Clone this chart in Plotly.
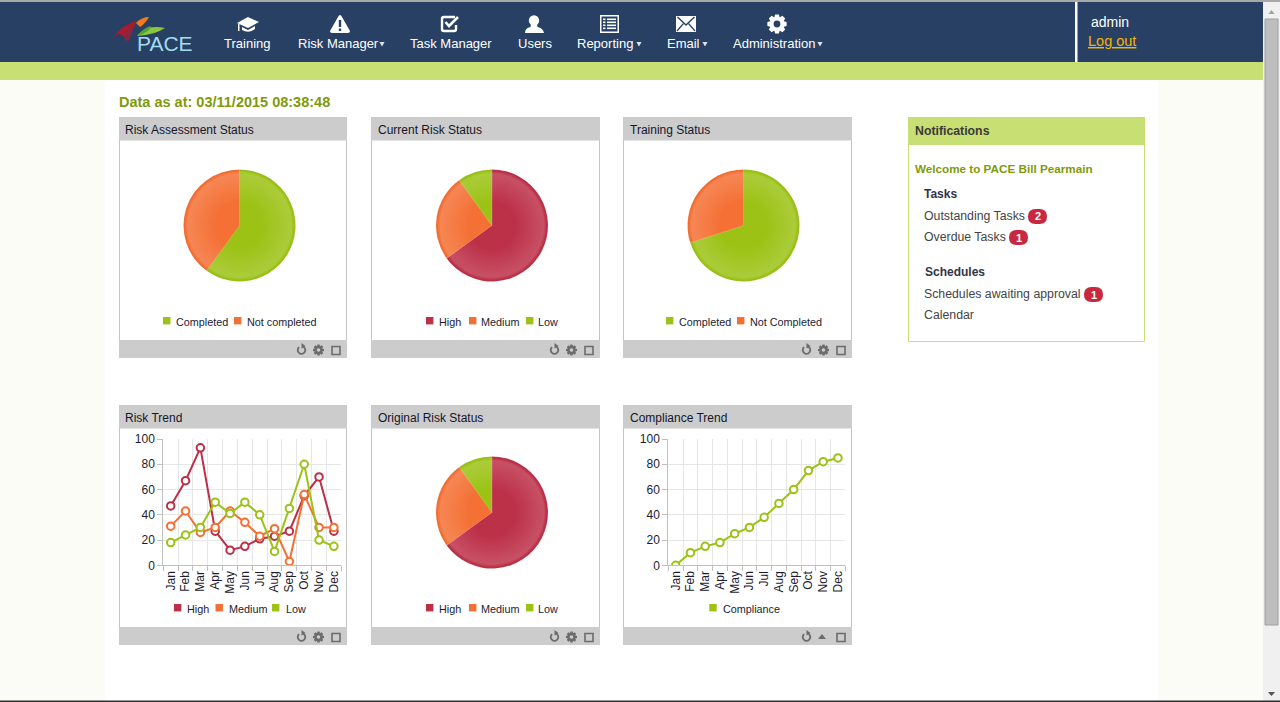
import math, re
import plotly.graph_objects as go

W, H = 1280, 702

# ---- data ----
MONTHS = ["Jan", "Feb", "Mar", "Apr", "May", "Jun", "Jul", "Aug", "Sep", "Oct", "Nov", "Dec"]
TREND_HIGH = [47, 67, 93, 27, 12, 15, 21, 23, 27, 55, 70, 27]
TREND_MEDIUM = [31, 43, 26, 30, 43, 34, 23, 29, 3, 56, 30, 30]
TREND_LOW = [18, 24, 30, 50, 41, 50, 40, 11, 45, 80, 20, 15]
COMPLIANCE = [0, 10, 15, 18, 25, 30, 38, 49, 60, 75, 82, 85]

ASSESS_LABELS = ["Completed", "Not completed"]
ASSESS_VALUES = [60, 40]
CURRENT_LABELS = ["High", "Medium", "Low"]
CURRENT_VALUES = [65, 25, 10]
TRAINING_LABELS = ["Completed", "Not Completed"]
TRAINING_VALUES = [70, 30]
ORIGINAL_LABELS = ["High", "Medium", "Low"]
ORIGINAL_VALUES = [65, 25, 10]

RED, ORANGE, GREEN = "#BC2F47", "#F46F33", "#9BC214"
NAVY = "#274064"
LIME = "#C8DF74"
OLIVE = "#7F9A0B"
PANEL_GREY = "#CCCCCC"
ICON = "#6B6B6B"
ARIAL = "Liberation Sans, Arial, sans-serif"
TEXT = "#1C1C30"


def fx(x):
    return x / W


def fy(y):
    return 1 - y / H


def path(d):
    toks = re.findall(r"[MLQCZ]|-?\d+\.?\d*", d)
    out, isx = [], True
    for t in toks:
        if t in "MLQCZ":
            out.append(t)
            isx = True
        else:
            v = float(t)
            out.append(f"{fx(v):.5f}" if isx else f"{fy(v):.5f}")
            isx = not isx
    return " ".join(out)


shapes, annos = [], []


def rect(x0, y0, x1, y1, fill, line=None, lw=1):
    shapes.append(dict(type="rect", xref="paper", yref="paper", x0=fx(x0), x1=fx(x1), y0=fy(y0), y1=fy(y1),
                       fillcolor=fill, line=dict(color=line, width=lw) if line else dict(width=0), layer="below"))


def poly(d, fill=None, line=None, lw=0):
    shapes.append(dict(type="path", xref="paper", yref="paper", path=path(d), fillcolor=fill or "rgba(0,0,0,0)",
                       line=dict(color=line, width=lw) if line else dict(width=0), layer="below"))


def circle(cx, cy, r, fill, line=None, lw=0):
    shapes.append(dict(type="circle", xref="paper", yref="paper", x0=fx(cx - r), x1=fx(cx + r), y0=fy(cy - r), y1=fy(cy + r),
                       fillcolor=fill, line=dict(color=line, width=lw) if line else dict(width=0), layer="below"))


def text(x, y, s, size=12, color=TEXT, bold=False, anchor="left"):
    annos.append(dict(xref="paper", yref="paper", x=fx(x - 1 if anchor == "left" else x), y=fy(y), text=f"<b>{s}</b>" if bold else s,
                      showarrow=False, xanchor=anchor, yanchor="middle", borderpad=0,
                      font=dict(family=ARIAL, size=size, color=color)))


def gear(cx, cy, ro, ri, hole, fill, holefill, n=8):
    pts = []
    for i in range(n):
        a = 2 * math.pi * i / n - math.pi / 2
        w = math.pi / n
        for da, r in ((-w * 0.95, ri), (-w * 0.5, ro), (w * 0.5, ro), (w * 0.95, ri)):
            pts.append((cx + r * math.cos(a + da), cy + r * math.sin(a + da)))
    poly("M " + " L ".join(f"{p[0]:.2f} {p[1]:.2f}" for p in pts) + " Z", fill)
    circle(cx, cy, hole, holefill)


def refresh(cx, cy):
    pts = []
    for d in range(20, 330, 20):
        a = math.radians(d)
        pts.append((cx + 3.8 * math.sin(a), cy - 3.8 * math.cos(a)))
    poly("M " + " L ".join(f"{p[0]:.2f} {p[1]:.2f}" for p in pts), None, ICON, 1.8)
    poly(f"M {cx:.1f} {cy-7:.1f} L {cx+4:.1f} {cy-4:.1f} L {cx:.1f} {cy-1.5:.1f} Z", ICON)


# ---- page chrome ----
rect(0, 0, W, H, "#FBFCF5")
rect(105, 80, 1158, H, "#FFFFFF")
rect(0, 2, 1263, 62, NAVY)
rect(0, 0, W, 2, "#A8A8A8")
rect(0, 62, 1263, 80, LIME)
rect(1075, 2, 1077.5, 62, "#FFFFFF")
rect(1263, 2, W, H, "#F0F0F0")
rect(1265, 19, 1278, 625, "#BEBEBE", "#A0A0A0", 1)
poly("M 1268 692 L 1275 692 L 1271.5 696 Z", "#505050")
poly("M 1268.5 14 L 1274.5 14 L 1271.5 10 Z", "#A0A0A0")
rect(0, 700.5, W, H, "#303030")

# logo
poly("M 113 38 Q 122 24 137 21 Q 133 29 128 41 Q 124 35 118 34 Z", "#A81C30")
poly("M 124 40 Q 126 30 134 26 Q 132 33 129 41 Z", "#7E2A45")
poly("M 136 23 Q 142 17 149 17 Q 146 23 140 27 Z", "#F07A20")
poly("M 137 36 Q 146 24 165 28 Q 155 35 137 36 Z", "#8CC63F")
poly("M 137 36 Q 143 28 151 26 Q 150 32 137 36 Z", "#4EA33A")
text(137, 43, "PACE", 21, "#A2DDF0")

# menu
for x, label in [(224, "Training"), (298, "Risk Manager"), (410, "Task Manager"), (518, "Users"),
                 (577, "Reporting"), (667, "Email"), (733, "Administration")]:
    text(x, 43.5, label, 13, "#FFFFFF")
for x in (382, 639, 705, 820):
    poly(f"M {x-2.6} 42 L {x+2.6} 42 L {x} 46.5 Z", "#DDE2E8")

# cap
poly("M 237 23 L 248 17 L 259 22 L 248 28 Z", "#FFFFFF")
poly("M 242 27 L 248 30 L 255 26 L 255 29 Q 249 34 242 30 Z", "#FFFFFF")
poly("M 238 24 L 239.5 24 L 239.5 31 L 238 31 Z", "#FFFFFF")
# warning
poly("M 340 15 Q 341 15 342 17 L 350 31 Q 350 33 348 33 L 332 33 Q 330 33 330 31 L 338 17 Q 339 15 340 15 Z", "#FFFFFF")
rect(338.8, 20, 341.2, 27, NAVY)
rect(338.8, 28.5, 341.2, 31, NAVY)
# task check
poly("M 455 17 L 444 17 Q 442 17 442 19 L 442 29 Q 442 31 444 31 L 454 31 Q 456 31 456 29 L 456 25", None, "#FFFFFF", 2.4)
poly("M 445.5 22 L 449 26 L 458 17", None, "#FFFFFF", 2.6)
# user
circle(534, 20.5, 5.2, "#FFFFFF")
poly("M 531 24 L 537 24 L 537.5 27 Q 543 28 544 33 L 525 33 Q 525 28 530.5 27 Z", "#FFFFFF")
# reporting
rect(600, 15, 619, 33, "#FFFFFF")
rect(601.5, 16.5, 617.5, 31.5, NAVY)
for yy in (18.5, 21.5, 24.5, 27.5):
    rect(603, yy, 605.5, yy + 1.6, "#FFFFFF")
    rect(607, yy, 616, yy + 1.6, "#FFFFFF")
# mail
rect(676, 16, 696, 32, "#FFFFFF")
poly("M 677.5 17 L 686 25 L 694.5 17", None, NAVY, 1.4)
poly("M 677 31 L 683.5 23.5", None, NAVY, 1.2)
poly("M 695 31 L 688.5 23.5", None, NAVY, 1.2)
# admin gear
gear(777, 24, 9.8, 7.3, 3.4, "#FFFFFF", NAVY)

text(1091, 22, "admin", 14, "#FFFFFF")
text(1087.5, 41, "<u>Log out</u>", 14.5, "#F5B400")
text(119, 102, "Data as at: 03/11/2015 08:38:48", 14.5, OLIVE, bold=True)


# ---- dashboard panels ----
def panel(x0, x1, y0, y1, title, middle="gear", tx=6, ty=12.5):
    rect(x0 + .5, y0 + .5, x1 - .5, y1 - .5, "#FFFFFF", "#C4C4C4", 1)
    rect(x0, y0, x1, y0 + 23.5, PANEL_GREY)
    rect(x0, y1 - 18, x1, y1, PANEL_GREY)
    text(x0 + tx, y0 + ty, title, 12, "#15152A")
    cy = y1 - 8
    refresh(x1 - 45.5, cy)
    if middle == "gear":
        gear(x1 - 28.5, cy, 5.6, 4.1, 1.8, ICON, PANEL_GREY)
    else:
        poly(f"M {x1-34} {cy+2} L {x1-26} {cy+2} L {x1-30} {cy-3} Z", ICON)
    rect(x1 - 15, cy - 3.5, x1 - 7, cy + 4.5, PANEL_GREY, ICON, 1.6)


def legend(y, items):
    for sq, tx, label, col in items:
        rect(sq, y, sq + 7.4, y + 7.4, col)
        text(tx, y + 5, label, 10.8, TEXT)


panel(119, 347, 117, 358, "Risk Assessment Status", ty=13)
panel(371, 600, 117, 358, "Current Risk Status", tx=7, ty=13)
panel(623, 852, 117, 358, "Training Status", tx=7, ty=13)
panel(119, 347, 405, 645, "Risk Trend")
panel(371, 600, 405, 645, "Original Risk Status", tx=7)
panel(623, 852, 405, 645, "Compliance Trend", middle="tri", tx=7)

legend(317, [(163, 176, ASSESS_LABELS[0], GREEN), (234, 247, ASSESS_LABELS[1], ORANGE)])
legend(317, [(426, 439, CURRENT_LABELS[0], RED), (469, 481, CURRENT_LABELS[1], ORANGE), (526, 538, CURRENT_LABELS[2], GREEN)])
legend(317, [(666, 679, TRAINING_LABELS[0], GREEN), (737, 750, TRAINING_LABELS[1], ORANGE)])
legend(604, [(174, 187, "High", RED), (215.5, 229, "Medium", ORANGE), (272, 286, "Low", GREEN)])
legend(604, [(426, 439, ORIGINAL_LABELS[0], RED), (469, 481, ORIGINAL_LABELS[1], ORANGE), (526, 538, ORIGINAL_LABELS[2], GREEN)])
legend(604, [(709.3, 723, "Compliance", GREEN)])

# ---- notifications ----
rect(908.5, 117.5, 1144.5, 341.5, "#FFFFFF", LIME, 1)
rect(908, 117, 1145, 145, LIME)
text(915, 131, "Notifications", 12.3, "#3A3A3A", bold=True)
text(915, 168, "Welcome to PACE Bill Pearmain", 11.7, OLIVE, bold=True)
text(924, 194, "Tasks", 12, "#333344", bold=True)
text(924.5, 272, "Schedules", 12, "#333344", bold=True)
text(924, 216, "Outstanding Tasks", 12.3, "#444444")
text(924, 237, "Overdue Tasks", 12.3, "#444444")
text(924, 294, "Schedules awaiting approval", 12.3, "#444444")
text(924, 315, "Calendar", 12.3, "#444444")
for cx, cy, n in [(1037.5, 216.5, "2"), (1018.5, 237.5, "1"), (1093.5, 294.5, "1")]:
    poly(f"M {cx-2} {cy-7.5} L {cx+2} {cy-7.5} Q {cx+9.5} {cy-7.5} {cx+9.5} {cy} Q {cx+9.5} {cy+7.5} {cx+2} {cy+7.5} "
         f"L {cx-2} {cy+7.5} Q {cx-9.5} {cy+7.5} {cx-9.5} {cy} Q {cx-9.5} {cy-7.5} {cx-2} {cy-7.5} Z", "#C9283F")
    text(cx, cy, n, 11, "#FFFFFF", bold=True, anchor="center")

fig = go.Figure()


# ---- pies ----
def lighten(hex_col, t):
    r, g, b = int(hex_col[1:3], 16), int(hex_col[3:5], 16), int(hex_col[5:7], 16)
    if t >= 0:
        r, g, b = r + (255 - r) * t, g + (255 - g) * t, b + (255 - b) * t
    else:
        r, g, b = r * (1 + t), g * (1 + t), b * (1 + t)
    return f"rgb({r:.0f},{g:.0f},{b:.0f})"


# radial shading: (radius, lightening)
SHADE = [(56, -0.03), (55, -0.01), (54.5, 0.02), (54, 0.05), (53.5, 0.08), (53, 0.11), (52.5, 0.14), (52, 0.16)]
SHADE += [(r, 0.16 * (r - 22) / 29) for r in range(51, 22, -1)]


def pie(cx, cy, labels, values, colors):
    for r, t in SHADE:
        fig.add_trace(go.Pie(labels=labels, values=values, sort=False, direction="clockwise", rotation=0,
                             textinfo="none", hoverinfo="label+percent", showlegend=False,
                             marker=dict(colors=[lighten(c, t) for c in colors], line=dict(width=0)),
                             domain=dict(x=[fx(cx - r), fx(cx + r)], y=[fy(cy + r), fy(cy - r)])))
    r = 56
    fig.add_trace(go.Pie(labels=labels, values=values, sort=False, direction="clockwise", rotation=0,
                         textinfo="none", hoverinfo="skip", showlegend=False,
                         marker=dict(colors=["rgba(0,0,0,0)"] * len(values), line=dict(width=0.5, color="rgba(255,255,255,0.2)")),
                         domain=dict(x=[fx(cx - r), fx(cx + r)], y=[fy(cy + r), fy(cy - r)])))


pie(239.5, 225.5, ASSESS_LABELS, ASSESS_VALUES, [GREEN, ORANGE])
pie(492, 225.5, CURRENT_LABELS, CURRENT_VALUES, [RED, ORANGE, GREEN])
pie(743.5, 225.5, TRAINING_LABELS, TRAINING_VALUES, [GREEN, ORANGE])
pie(492, 512.5, ORIGINAL_LABELS, ORIGINAL_VALUES, [RED, ORANGE, GREEN])


# ---- trend lines ----
def line(y, color, name, ax):
    fig.add_trace(go.Scatter(x=MONTHS, y=y, name=name, mode="lines+markers", xaxis=f"x{ax}", yaxis=f"y{ax}",
                             line=dict(color=color, width=2), showlegend=False,
                             marker=dict(size=7.5, color="#FFFFFF", line=dict(color=color, width=2))))


line(TREND_HIGH, RED, "High", "")
line(TREND_MEDIUM, ORANGE, "Medium", "")
line(TREND_LOW, GREEN, "Low", "")
line(COMPLIANCE, GREEN, "Compliance", "2")

tick_font = dict(family=ARIAL, size=12, color=TEXT)
xcommon = dict(type="category", categoryorder="array", categoryarray=MONTHS, range=[-0.5, 11.5], tickson="boundaries",
               ticks="outside", ticklen=5, tickcolor="#C0C0C0", showline=True, linecolor="#C0C0C0", linewidth=1,
               showgrid=True, gridcolor="#E6E6E6", gridwidth=1.2, tickangle=-90, tickfont=tick_font, fixedrange=True,
               zeroline=False)
ycommon = dict(range=[0, 100], tickvals=[0, 20, 40, 60, 80, 100], ticks="outside", ticklen=5, tickcolor="#C0C0C0",
               showline=True, linecolor="#C0C0C0", linewidth=1, showgrid=True, gridcolor="#E6E6E6", gridwidth=1.2,
               tickfont=tick_font, zeroline=False, fixedrange=True)
ydom = [fy(565.3), fy(439)]

xa1 = {**xcommon, "domain": [fx(163.3), fx(341.3)], "anchor": "y"}
ya1 = {**ycommon, "domain": ydom, "anchor": "x"}
xa2 = {**xcommon, "domain": [fx(668.3), fx(845.3)], "anchor": "y2"}
ya2 = {**ycommon, "domain": ydom, "anchor": "x2"}

fig.update_layout(width=W, height=H, autosize=False, margin=dict(l=0, r=0, t=0, b=0, pad=0, autoexpand=False),
                  paper_bgcolor="#FFFFFF", plot_bgcolor="rgba(0,0,0,0)", showlegend=False,
                  shapes=shapes, annotations=annos, xaxis=xa1, yaxis=ya1, xaxis2=xa2, yaxis2=ya2,
                  font=dict(family=ARIAL))

fig.write_html("out.html", config=dict(displayModeBar=False),
               post_script="document.body.style.margin='0';document.body.style.overflow='hidden';")
